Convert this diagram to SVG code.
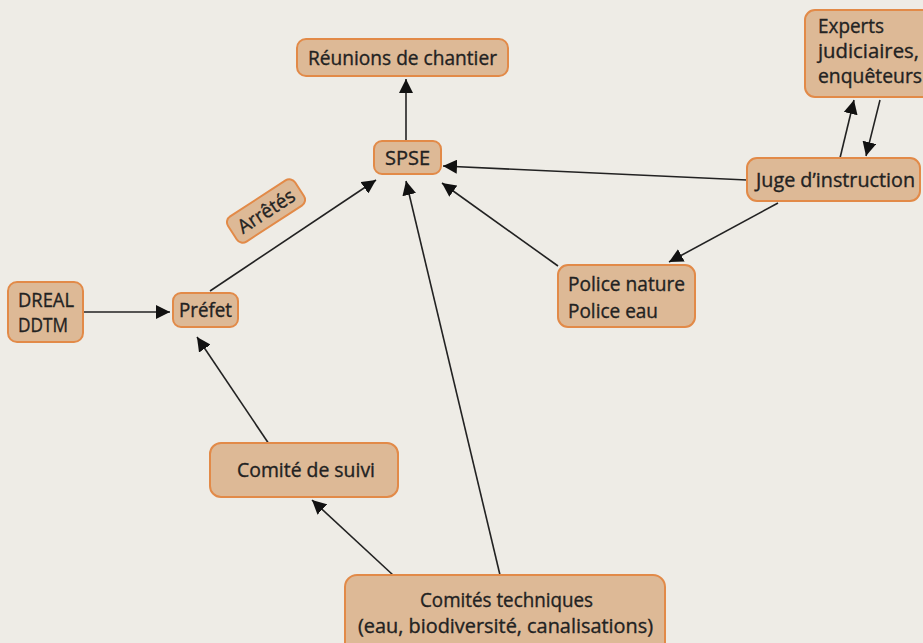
<svg xmlns="http://www.w3.org/2000/svg" width="923" height="643" viewBox="0 0 923 643">
<defs>
<marker id="ah" viewBox="0 0 10 10" refX="10" refY="5" markerWidth="14" markerHeight="14" markerUnits="userSpaceOnUse" orient="auto">
<path d="M0,0 L10,5 L0,10 z" fill="#111"/>
</marker>
<style>
.box{fill:#DDB996;stroke:#E28A48;stroke-width:2}
.t{font-family:"Open Sans","Noto Sans",sans-serif;font-size:19.5px;fill:#222;stroke:#222;stroke-width:0.35}
.c{stroke:#222;stroke-width:1.6;fill:none;marker-end:url(#ah)}
</style>
</defs>
<rect width="923" height="643" fill="#EEECE6"/>
<g id="connectors">
<line class="c" x1="406" y1="141" x2="406" y2="79"/>
<line class="c" x1="747" y1="180" x2="443" y2="166"/>
<line class="c" x1="558" y1="266" x2="442" y2="183"/>
<line class="c" x1="778" y1="203" x2="669" y2="262"/>
<line class="c" x1="840" y1="158" x2="854" y2="100"/>
<line class="c" x1="880" y1="100" x2="866" y2="156"/>
<line class="c" x1="84" y1="312" x2="170" y2="312"/>
<line class="c" x1="210" y1="291" x2="376" y2="180"/>
<line class="c" x1="269" y1="444" x2="197" y2="337"/>
<line class="c" x1="393" y1="575" x2="312" y2="500"/>
<line class="c" x1="500" y1="575" x2="406" y2="181"/>
</g>
<g id="reunions">
<rect class="box" x="297" y="39" width="211" height="37" rx="9"/>
<text class="t" x="308" y="65" textLength="189" lengthAdjust="spacingAndGlyphs">Réunions de chantier</text>
</g>
<g id="spse">
<rect class="box" x="374" y="141" width="67" height="33" rx="8"/>
<text class="t" x="385" y="165" textLength="45" lengthAdjust="spacingAndGlyphs">SPSE</text>
</g>
<g id="experts">
<rect class="box" x="805" y="10" width="130" height="87" rx="10"/>
<text class="t" x="818" y="33" textLength="66" lengthAdjust="spacingAndGlyphs">Experts</text>
<text class="t" x="818" y="58" textLength="101" lengthAdjust="spacingAndGlyphs">judiciaires,</text>
<text class="t" x="818" y="83" textLength="104" lengthAdjust="spacingAndGlyphs">enquêteurs</text>
</g>
<g id="juge">
<rect class="box" x="747" y="158" width="173" height="43" rx="10"/>
<text class="t" x="756" y="187" textLength="159" lengthAdjust="spacingAndGlyphs">Juge d’instruction</text>
</g>
<g id="police">
<rect class="box" x="558" y="265" width="137" height="62" rx="10"/>
<text class="t" x="568" y="291" textLength="117" lengthAdjust="spacingAndGlyphs">Police nature</text>
<text class="t" x="568" y="318" textLength="90" lengthAdjust="spacingAndGlyphs">Police eau</text>
</g>
<g id="dreal">
<rect class="box" x="8" y="282" width="75" height="60" rx="9"/>
<text class="t" x="18" y="307" textLength="56" lengthAdjust="spacingAndGlyphs">DREAL</text>
<text class="t" x="18" y="332" textLength="50" lengthAdjust="spacingAndGlyphs">DDTM</text>
</g>
<g id="prefet">
<rect class="box" x="173" y="293" width="65" height="34" rx="8"/>
<text class="t" x="179" y="317" textLength="53" lengthAdjust="spacingAndGlyphs">Préfet</text>
</g>
<g id="arretes" transform="translate(266,211) rotate(-33)">
<rect class="box" x="-40" y="-15" width="80" height="30" rx="7"/>
<text class="t" x="-32" y="7" textLength="64" lengthAdjust="spacingAndGlyphs">Arrêtés</text>
</g>
<g id="suivi">
<rect class="box" x="210" y="443" width="188" height="54" rx="11"/>
<text class="t" x="237" y="477" textLength="138" lengthAdjust="spacingAndGlyphs">Comité de suivi</text>
</g>
<g id="techniques">
<rect class="box" x="345" y="575" width="320" height="80" rx="12"/>
<text class="t" x="420" y="607" textLength="173" lengthAdjust="spacingAndGlyphs">Comités techniques</text>
<text class="t" x="358" y="633" textLength="295" lengthAdjust="spacingAndGlyphs">(eau, biodiversité, canalisations)</text>
</g>
</svg>
